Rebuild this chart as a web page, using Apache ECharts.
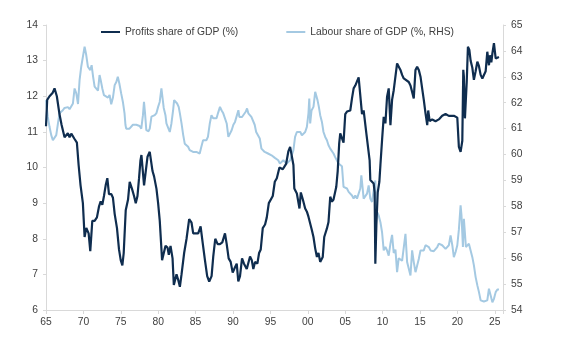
<!DOCTYPE html>
<html>
<head>
<meta charset="utf-8">
<title>Profits and labour share of GDP</title>
<script src="https://cdn.jsdelivr.net/npm/echarts@6/dist/echarts.min.js"></script>
<style>
  html, body { margin: 0; padding: 0; background: #ffffff; }
  #chart { width: 572px; height: 345px; }
</style>
</head>
<body>
<div id="chart"></div>
<script>
// Profits share of GDP (%), left axis: [year, value]
const profitsShare = [
  [1965.00, 11.16], [1965.16, 11.90], [1965.47, 12.00], [1965.70, 11.95], [1965.90, 12.10],
  [1966.14, 12.22], [1966.45, 12.00], [1966.80, 11.50], [1967.08, 11.20], [1967.48, 10.85],
  [1967.92, 10.96], [1968.15, 10.85], [1968.38, 10.95], [1968.82, 10.80], [1969.13, 10.70],
  [1969.36, 10.07], [1969.62, 9.50], [1969.93, 9.00], [1970.16, 8.05], [1970.39, 8.30],
  [1970.70, 8.15], [1970.92, 7.65], [1971.19, 8.50], [1971.50, 8.50], [1971.81, 8.60],
  [1972.08, 8.90], [1972.31, 9.05], [1972.53, 8.95], [1972.75, 9.20], [1972.98, 9.50],
  [1973.20, 9.70], [1973.42, 9.25], [1973.74, 9.25], [1973.95, 9.15], [1974.18, 8.70],
  [1974.49, 8.30], [1974.76, 7.70], [1974.99, 7.40], [1975.21, 7.25], [1975.39, 7.60],
  [1975.66, 8.80], [1975.97, 9.10], [1976.19, 9.60], [1976.50, 9.40], [1976.77, 9.20],
  [1977.00, 9.00], [1977.23, 9.20], [1977.44, 9.70], [1977.63, 10.20], [1977.76, 10.35],
  [1978.11, 9.50], [1978.57, 10.30], [1978.87, 10.44], [1979.24, 9.90], [1979.45, 9.75],
  [1979.77, 9.40], [1979.99, 9.00], [1980.21, 8.50], [1980.52, 7.40], [1980.75, 7.60],
  [1980.98, 7.80], [1981.25, 7.75], [1981.42, 7.55], [1981.65, 7.80], [1981.92, 7.45],
  [1982.09, 6.70], [1982.45, 7.00], [1982.67, 6.85], [1982.90, 6.65], [1983.12, 7.00],
  [1983.47, 7.60], [1983.79, 8.00], [1984.14, 8.55], [1984.46, 8.45], [1984.68, 8.15],
  [1984.91, 8.20], [1985.35, 8.15], [1985.67, 8.35], [1985.94, 7.90], [1986.25, 7.40],
  [1986.55, 6.95], [1986.82, 6.80], [1987.14, 6.95], [1987.36, 7.50], [1987.63, 8.00],
  [1987.95, 7.85], [1988.26, 7.85], [1988.57, 7.90], [1988.93, 8.15], [1989.16, 7.85],
  [1989.42, 7.45], [1989.69, 7.35], [1989.96, 7.05], [1990.27, 7.20], [1990.50, 7.30],
  [1990.71, 6.80], [1990.94, 6.95], [1991.21, 7.45], [1991.47, 7.30], [1991.84, 7.15],
  [1992.05, 7.20], [1992.28, 7.50], [1992.51, 7.40], [1992.72, 7.15], [1992.95, 7.35],
  [1993.26, 7.30], [1993.49, 7.60], [1993.71, 7.70], [1993.98, 8.30], [1994.29, 8.40],
  [1994.52, 8.60], [1994.79, 9.00], [1995.05, 9.05], [1995.32, 9.20], [1995.59, 9.60],
  [1995.86, 9.70], [1996.21, 10.00], [1996.66, 9.95], [1997.10, 10.10], [1997.40, 10.45],
  [1997.64, 10.58], [1998.08, 10.07], [1998.20, 9.41], [1998.54, 9.27], [1998.76, 9.27],
  [1998.89, 8.85], [1999.07, 9.30], [1999.34, 9.10], [1999.65, 8.85], [1999.88, 8.76],
  [2000.09, 8.62], [2000.32, 8.43], [2000.55, 8.24], [2000.76, 8.05], [2000.99, 7.73],
  [2001.22, 7.49], [2001.43, 7.60], [2001.66, 7.35], [2001.89, 7.30], [2002.00, 7.49],
  [2002.20, 8.05], [2002.56, 8.29], [2002.77, 8.47], [2003.00, 9.18], [2003.23, 9.04],
  [2003.44, 9.10], [2003.58, 9.15], [2003.81, 9.46], [2004.00, 9.90], [2004.20, 10.68],
  [2004.34, 10.96], [2004.57, 11.00], [2004.78, 10.70], [2005.01, 11.50], [2005.24, 11.57],
  [2005.46, 11.60], [2005.68, 11.60], [2005.91, 11.94], [2006.13, 12.22], [2006.35, 12.30],
  [2006.58, 12.30], [2006.80, 12.53], [2007.25, 11.50], [2007.47, 11.60], [2007.83, 10.96],
  [2008.27, 10.20], [2008.36, 9.65], [2008.81, 9.55], [2008.94, 9.30], [2009.03, 7.30],
  [2009.17, 8.38], [2009.35, 9.30], [2009.57, 9.60], [2009.71, 10.07], [2009.93, 10.77],
  [2010.15, 11.42], [2010.38, 11.24], [2010.60, 11.99], [2010.82, 12.22], [2011.05, 11.19],
  [2011.27, 11.90], [2011.49, 12.17], [2011.94, 12.92], [2012.16, 12.95], [2012.39, 12.74],
  [2012.61, 12.60], [2012.83, 12.50], [2013.06, 12.46], [2013.50, 12.40], [2013.73, 12.30],
  [2013.95, 12.25], [2014.17, 11.94], [2014.40, 12.74], [2014.62, 12.83], [2014.84, 12.74],
  [2015.07, 12.55], [2015.29, 12.22], [2015.51, 11.90], [2015.74, 11.52], [2015.97, 11.19],
  [2016.10, 11.60], [2016.30, 11.30], [2016.63, 11.35], [2017.08, 11.30], [2017.31, 11.25],
  [2017.52, 11.35], [2017.75, 11.40], [2017.97, 11.45], [2018.19, 11.40], [2018.42, 11.50],
  [2018.86, 11.45], [2019.09, 11.40], [2019.53, 11.45], [2019.99, 11.40], [2020.20, 10.58],
  [2020.43, 10.44], [2020.66, 10.75], [2020.79, 12.74], [2020.87, 12.55], [2021.01, 11.38],
  [2021.25, 12.40], [2021.41, 13.39], [2021.60, 13.30], [2021.77, 13.00], [2022.00, 12.80],
  [2022.21, 12.46], [2022.44, 12.70], [2022.67, 12.97], [2022.88, 12.85], [2023.11, 12.60],
  [2023.34, 12.50], [2023.55, 12.50], [2023.78, 12.70], [2024.00, 13.25], [2024.22, 12.87],
  [2024.36, 13.15], [2024.54, 12.95], [2024.68, 13.20], [2024.89, 13.49], [2025.12, 13.06],
  [2025.35, 13.06], [2025.56, 13.10]
];

// Labour share of GDP (%), right axis: [year, value]
const labourShare = [
  [1965.00, 62.10], [1965.24, 61.45], [1965.47, 61.07], [1965.70, 60.75], [1965.92, 60.55],
  [1966.14, 60.50], [1966.37, 60.75], [1966.60, 61.20], [1966.80, 61.59], [1967.00, 61.65],
  [1967.25, 61.71], [1967.48, 61.80], [1967.70, 61.75], [1967.92, 61.83], [1968.15, 61.75],
  [1968.38, 61.70], [1968.60, 61.97], [1968.82, 62.55], [1969.05, 62.36], [1969.28, 61.95],
  [1969.49, 62.87], [1969.71, 63.39], [1969.93, 63.77], [1970.16, 64.16], [1970.38, 63.84],
  [1970.60, 63.39], [1970.77, 63.45], [1970.92, 63.26], [1971.10, 63.45], [1971.30, 63.00],
  [1971.50, 62.62], [1971.70, 62.55], [1971.95, 62.47], [1972.16, 63.07], [1972.31, 62.88],
  [1972.53, 62.55], [1972.75, 62.29], [1973.00, 62.23], [1973.28, 62.20], [1973.50, 62.30],
  [1973.72, 61.94], [1973.95, 62.20], [1974.18, 62.68], [1974.40, 62.80], [1974.60, 63.00],
  [1974.80, 62.75], [1975.05, 62.36], [1975.28, 62.03], [1975.50, 61.59], [1975.62, 61.15],
  [1975.72, 61.00], [1976.16, 61.00], [1976.40, 60.96], [1976.62, 61.15], [1976.85, 61.20],
  [1977.07, 61.15], [1977.30, 61.15], [1977.52, 61.10], [1977.74, 61.00], [1977.96, 61.52],
  [1978.10, 62.03], [1978.24, 61.60], [1978.41, 60.94], [1978.55, 61.00], [1978.72, 60.90],
  [1978.87, 61.00], [1979.10, 61.46], [1979.30, 61.46], [1979.54, 61.52], [1979.77, 61.60],
  [1979.99, 61.84], [1980.20, 62.03], [1980.43, 62.55], [1980.56, 62.48], [1980.74, 61.80],
  [1980.97, 61.52], [1981.10, 61.20], [1981.33, 61.15], [1981.55, 60.87], [1981.77, 61.20],
  [1981.99, 61.70], [1982.13, 62.10], [1982.30, 62.03], [1982.53, 61.97], [1982.74, 61.84],
  [1982.90, 61.59], [1983.12, 61.20], [1983.34, 60.76], [1983.55, 60.42], [1983.78, 60.36],
  [1984.00, 60.30], [1984.21, 60.17], [1984.44, 60.10], [1984.66, 60.10], [1984.88, 60.10],
  [1985.10, 60.10], [1985.30, 60.10], [1985.55, 60.04], [1985.77, 60.30], [1986.00, 60.55],
  [1986.20, 60.58], [1986.44, 60.55], [1986.65, 60.68], [1986.90, 61.20], [1987.12, 61.52],
  [1987.35, 61.40], [1987.57, 61.40], [1987.80, 61.40], [1988.00, 61.60], [1988.26, 61.84],
  [1988.48, 61.70], [1988.70, 61.59], [1988.93, 61.52], [1989.16, 61.20], [1989.38, 60.68],
  [1989.60, 60.75], [1989.82, 60.94], [1990.05, 61.15], [1990.27, 61.26], [1990.50, 61.33],
  [1990.72, 61.71], [1990.85, 61.45], [1991.00, 61.52], [1991.21, 61.45], [1991.44, 61.52],
  [1991.70, 61.65], [1991.88, 61.78], [1992.05, 61.59], [1992.24, 61.59], [1992.46, 61.45],
  [1992.68, 61.40], [1992.90, 61.15], [1993.10, 60.87], [1993.36, 60.94], [1993.58, 60.62],
  [1993.80, 60.23], [1994.00, 60.17], [1994.24, 60.10], [1994.46, 60.17], [1994.68, 60.04],
  [1994.90, 59.97], [1995.15, 59.97], [1995.37, 59.90], [1995.60, 59.87], [1995.86, 59.84],
  [1996.05, 59.78], [1996.27, 59.65], [1996.50, 59.58], [1996.73, 59.78], [1996.95, 59.78],
  [1997.17, 59.65], [1997.40, 59.70], [1997.64, 59.78], [1997.84, 59.85], [1998.08, 60.17],
  [1998.30, 60.68], [1998.54, 60.87], [1998.76, 60.81], [1999.00, 60.87], [1999.21, 60.74],
  [1999.43, 60.81], [1999.65, 60.87], [1999.88, 61.07], [2000.09, 61.59], [2000.20, 62.16],
  [2000.32, 61.20], [2000.50, 61.70], [2000.76, 61.84], [2000.99, 62.42], [2001.13, 62.48],
  [2001.30, 62.10], [2001.48, 61.84], [2001.66, 61.52], [2001.89, 61.26], [2002.10, 60.87],
  [2002.33, 60.68], [2002.56, 60.55], [2002.77, 60.36], [2003.00, 60.23], [2003.23, 60.17],
  [2003.44, 60.04], [2003.66, 59.90], [2003.88, 59.78], [2004.11, 59.65], [2004.34, 59.59],
  [2004.57, 59.55], [2004.78, 58.75], [2005.01, 58.72], [2005.24, 58.69], [2005.46, 58.56],
  [2005.68, 58.49], [2005.91, 58.42], [2006.13, 58.30], [2006.35, 58.42], [2006.58, 58.30],
  [2006.80, 58.36], [2007.02, 58.69], [2007.16, 59.20], [2007.30, 58.80], [2007.47, 58.30],
  [2007.70, 58.25], [2007.92, 58.49], [2008.14, 58.81], [2008.36, 58.30], [2008.59, 58.17],
  [2008.81, 58.62], [2009.03, 59.00], [2009.12, 57.90], [2009.26, 57.78], [2009.48, 57.65],
  [2009.71, 57.39], [2009.93, 57.00], [2010.15, 56.30], [2010.38, 56.43], [2010.60, 56.30],
  [2010.82, 56.10], [2011.05, 56.56], [2011.27, 56.90], [2011.49, 56.20], [2011.72, 56.33],
  [2011.94, 55.46], [2012.16, 56.00], [2012.39, 55.94], [2012.61, 55.90], [2012.83, 55.94],
  [2013.06, 56.94], [2013.28, 55.85], [2013.50, 55.90], [2013.73, 55.33], [2013.95, 56.30],
  [2014.17, 55.85], [2014.40, 55.46], [2014.62, 55.40], [2014.84, 55.97], [2015.07, 56.30],
  [2015.29, 56.36], [2015.51, 56.30], [2015.74, 56.50], [2015.97, 56.56], [2016.18, 56.43],
  [2016.41, 56.30], [2016.63, 56.30], [2016.85, 56.27], [2017.08, 56.30], [2017.31, 56.43],
  [2017.52, 56.56], [2017.75, 56.56], [2017.97, 56.50], [2018.19, 56.43], [2018.42, 56.36],
  [2018.65, 56.43], [2018.86, 56.50], [2019.09, 56.88], [2019.32, 56.50], [2019.53, 56.04],
  [2019.76, 56.24], [2019.99, 56.50], [2020.20, 57.10], [2020.43, 58.04], [2020.55, 57.65],
  [2020.74, 56.43], [2020.87, 57.52], [2021.00, 57.00], [2021.14, 56.43], [2021.33, 56.50],
  [2021.54, 56.56], [2021.77, 56.50], [2022.00, 56.04], [2022.21, 55.72], [2022.44, 55.27],
  [2022.67, 54.95], [2022.88, 54.70], [2023.11, 54.37], [2023.34, 54.30], [2023.55, 54.33],
  [2023.78, 54.30], [2024.00, 54.37], [2024.22, 54.82], [2024.45, 54.56], [2024.68, 54.30],
  [2024.89, 54.43], [2025.12, 54.69], [2025.35, 54.79], [2025.56, 54.79]
];

const seriesNames = ['Profits share of GDP (%)', 'Labour share of GDP (%, RHS)'];
const yearRange = [1965, 2026.1];
const leftRange = [6, 14];
const rightRange = [54, 65];

const NAVY = '#0f2d4f';
const LIGHT = '#a4c9e2';
const AXIS = '#d9d9d9';
const TEXT = '#404040';
const FONT = 'Liberation Sans, Arial, sans-serif';

const chart = echarts.init(document.getElementById('chart'), null, { renderer: 'canvas' });

const yAxisBase = {
  type: 'value',
  interval: 1,
  splitLine: { show: false },
  axisLine: { show: true, lineStyle: { color: AXIS, width: 1 } },
  axisTick: { show: true, length: 3, lineStyle: { color: AXIS } },
  axisLabel: { color: TEXT, fontSize: 10.3, fontFamily: FONT, margin: 8 }
};

chart.setOption({
  animation: false,
  backgroundColor: '#ffffff',
  grid: { left: 46, right: 69, top: 25, bottom: 35, containLabel: false },
  legend: {
    left: 96,
    top: 22,
    itemWidth: 19,
    itemHeight: 2,
    itemGap: 48,
    icon: 'rect',
    textStyle: { color: TEXT, fontSize: 10.3, fontFamily: FONT },
    data: seriesNames
  },
  xAxis: {
    type: 'value',
    min: yearRange[0],
    max: yearRange[1],
    interval: 5,
    splitLine: { show: false },
    axisLine: { show: true, lineStyle: { color: AXIS, width: 1 } },
    axisTick: { show: true, length: 4, lineStyle: { color: AXIS } },
    axisLabel: {
      color: TEXT, fontSize: 10.3, fontFamily: FONT, margin: 7,
      formatter: function (v) {
        if (Math.abs(v % 5) > 1e-6) return '';
        const yy = Math.round(v) % 100;
        return (yy < 10 ? '0' : '') + yy;
      }
    }
  },
  yAxis: [
    Object.assign({}, yAxisBase, { min: leftRange[0], max: leftRange[1], position: 'left' }),
    Object.assign({}, yAxisBase, { min: rightRange[0], max: rightRange[1], position: 'right' })
  ],
  series: [
    {
      name: seriesNames[1],
      type: 'line',
      yAxisIndex: 1,
      data: labourShare,
      showSymbol: false,
      lineStyle: { color: LIGHT, width: 2 },
      itemStyle: { color: LIGHT },
      z: 2
    },
    {
      name: seriesNames[0],
      type: 'line',
      yAxisIndex: 0,
      data: profitsShare,
      showSymbol: false,
      lineStyle: { color: NAVY, width: 2.2 },
      itemStyle: { color: NAVY },
      z: 3
    }
  ]
});
</script>
</body>
</html>
